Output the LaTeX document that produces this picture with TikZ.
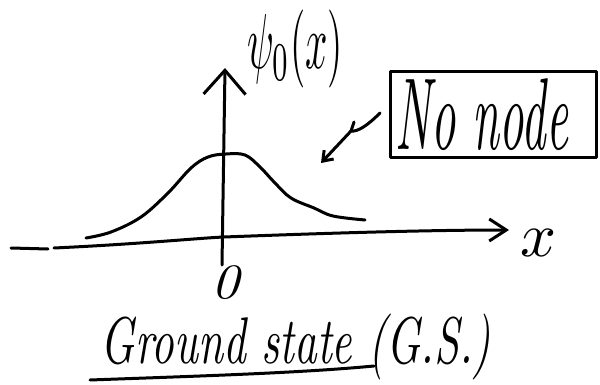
\documentclass[tikz,border=0pt]{standalone}
\usepackage{graphicx}
\usetikzlibrary{arrows.meta}
\begin{document}
\begin{tikzpicture}[x=1pt,y=-1pt,line width=3pt,line cap=round,line join=round,
  lbl/.style={inner sep=0pt,outer sep=0pt},
  bigbarb/.style={-{Straight Barb[length=24pt,width=42pt,line width=3pt]}},
  midbarb/.style={-{Straight Barb[length=17pt,width=22pt,line width=3pt]}},
  smallbarb/.style={-{Straight Barb[length=9pt,width=13pt,line width=3pt]}}]
\useasboundingbox (0,0) rectangle (600,385);
% labels
\node[lbl] (psi) at (295,49) {\resizebox*{96pt}{78pt}{$\psi_0(x)$}};
\node[draw,lbl,minimum width=206pt,minimum height=86pt] (box) at (493,115)
  {\resizebox*{172pt}{72pt}{\itshape No node}\hspace*{22pt}};
\node[lbl] (xl) at (538,243) {\resizebox*{36pt}{27pt}{$x$}};
\node[lbl] (zero) at (225,283) {\resizebox*{28pt}{34pt}{\itshape 0}};
\node[lbl] (gs) at (296,347) {\resizebox*{390pt}{66pt}{\itshape Ground state (G.S.)}};
% axes
\coordinate (vbot) at (222,265);
\coordinate (vtop) at (225,68);
\draw[bigbarb] (vbot) -- (vtop);
\coordinate (hl) at (11,248);
\coordinate (hg) at (48,249);
\coordinate (hs) at (54,248);
\coordinate (hr) at (509,230);
\draw (hl) -- (hg);
\draw[midbarb] (hs) .. controls (140,244) and (200,238) .. (224,237)
  .. controls (330,233) and (430,230) .. (hr);
% gaussian
\draw plot[smooth,tension=0.6] coordinates {(86,238) (111,232) (141,217) (168,193)
  (191,168) (208,157) (226,154) (245,155) (260,167) (275,183) (291,198)
  (314,208) (333,216) (365,220)};
% pointer
\coordinate (astart) at (380,113);
\coordinate (kink) at (351,131);
\coordinate (tick) at (354,122);
\coordinate (tip) at (321,163);
\draw[smallbarb] (astart) .. controls (368,125) and (358,132) .. (kink) -- (tip);
\draw (kink) -- (tick);
% underline
\coordinate (ul) at (90,380);
\coordinate (ur) at (374,366);
\draw (ul) .. controls (200,376) and (300,373) .. (ur);
\end{tikzpicture}
\end{document}
